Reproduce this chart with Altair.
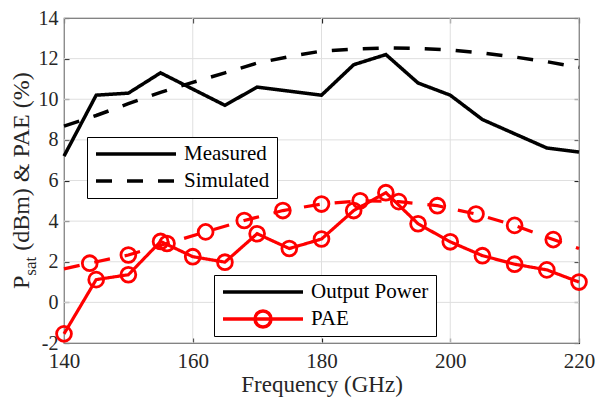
import altair as alt
import pandas as pd

# ---------------- data ----------------
freq_meas = [140, 145, 150, 155, 160, 165, 170, 175, 180, 185, 190, 195, 200, 205, 210, 215, 220]
psat_meas = [7.2, 10.2, 10.3, 11.3, 10.5, 9.7, 10.6, 10.4, 10.2, 11.7, 12.2, 10.8, 10.2, 9.0, 8.3, 7.6, 7.4]
pae_meas = [-1.55, 1.12, 1.36, 3.0, 2.25, 1.98, 3.38, 2.65, 3.12, 4.52, 5.4, 3.87, 2.98, 2.3, 1.88, 1.6, 1.0]

freq_sim_psat = [140, 145, 150, 155, 160, 165, 170, 175, 180, 185, 190, 195, 200, 205, 210, 215, 220]
psat_sim = [8.68, 9.2, 9.78, 10.34, 10.83, 11.3, 11.78, 12.1, 12.37, 12.47, 12.53, 12.5, 12.43, 12.28, 12.08, 11.85, 11.57]

freq_sim_pae = [140, 144, 150, 156, 162, 168, 174, 180, 186, 192, 198, 204, 210, 216, 220]
pae_sim = [1.65, 1.93, 2.33, 2.9, 3.47, 4.03, 4.52, 4.84, 5.0, 4.96, 4.76, 4.35, 3.79, 3.09, 2.65]

x_ticks = [140, 160, 180, 200, 220]
y_ticks = [-2, 0, 2, 4, 6, 8, 10, 12, 14]

type_labels = ["Measured", "Simulated"]
quantity_labels = ["Output Power", "PAE"]
x_title = "Frequency (GHz)"
y_title_parts = ["P", "sat", "(dBm) & PAE (%)"]

# ---------------- tables ----------------
df_psat = pd.concat([
    pd.DataFrame({"freq": freq_meas, "value": psat_meas, "type": type_labels[0]}),
    pd.DataFrame({"freq": freq_sim_psat, "value": psat_sim, "type": type_labels[1]}),
])
df_pae = pd.concat([
    pd.DataFrame({"freq": freq_meas, "value": pae_meas, "type": type_labels[0]}),
    pd.DataFrame({"freq": freq_sim_pae, "value": pae_sim, "type": type_labels[1]}),
])
df_pae_markers = pd.concat([
    pd.DataFrame({"freq": freq_meas, "value": pae_meas}),
    pd.DataFrame({"freq": freq_sim_pae[1:-1], "value": pae_sim[1:-1]}),
])

SERIF = "Liberation Serif, Times New Roman, serif"
DARK = "#262626"
GRID = "#dfdfdf"

xs = alt.Scale(domain=[140, 220], nice=False, zero=False)
ys = alt.Scale(domain=[-2, 14], nice=False, zero=False)

dash_scale = alt.Scale(domain=type_labels, range=[[1, 0], [16, 15]])
legend_a = alt.Legend(
    orient="none", legendX=23, legendY=119, title=None,
    symbolType="stroke", symbolSize=6400, symbolStrokeWidth=3.5,
    symbolStrokeColor="black", clipHeight=20, rowPadding=6, padding=7,
    labelFont=SERIF, labelFontSize=21, labelColor="black", labelOffset=6,
    strokeColor="black", fillColor="white",
)

line_path = "M-1,0L1,0"
circ_path = "M-1,0L1,0M0.2,0A0.2,0.2,0,1,1,-0.2,0A0.2,0.2,0,1,1,0.2,0"
legend_b = alt.Legend(
    orient="none", legendX=150, legendY=257, title=None,
    symbolSize=6400, symbolStrokeWidth=3.5, clipHeight=20, rowPadding=6, padding=7,
    labelFont=SERIF, labelFontSize=21, labelColor="black", labelOffset=6,
    strokeColor="black", fillColor="white",
)

axis_common = dict(
    offset=-5, tickSize=5, tickColor=DARK, tickWidth=1.2, domain=False, grid=False,
    labelFlush=False, labelOverlap=False,
)

# ---------------- grid + axes ----------------
grid_x = alt.Chart(pd.DataFrame({"freq": x_ticks})).mark_rule(color=GRID, strokeWidth=1).encode(
    x=alt.X("freq:Q", scale=xs, axis=alt.Axis(
        orient="bottom", values=x_ticks, labelFont=SERIF, labelFontSize=21, labelColor=DARK,
        labelPadding=7, labelExpr="'' + datum.value",
        title=x_title, titleFont=SERIF, titleFontSize=23, titleFontWeight="normal",
        titleColor=DARK, titlePadding=2, **axis_common)),
)
grid_y = alt.Chart(pd.DataFrame({"value": y_ticks})).mark_rule(color=GRID, strokeWidth=1).encode(
    y=alt.Y("value:Q", scale=ys, axis=alt.Axis(
        orient="left", values=y_ticks, labelFont=SERIF, labelFontSize=20, labelColor=DARK,
        labelPadding=6, labelExpr="'' + datum.value", title=None, **axis_common)),
)

# ---------------- data marks ----------------
line_black = alt.Chart(df_psat).mark_line(color="black", strokeWidth=3.5).encode(
    x=alt.X("freq:Q", scale=xs, axis=alt.Axis(
        orient="top", values=x_ticks, labels=False, title=None, **axis_common)),
    y=alt.Y("value:Q", scale=ys, axis=alt.Axis(
        orient="right", values=y_ticks, labels=False, title=None, **axis_common)),
    strokeDash=alt.StrokeDash("type:N", scale=dash_scale, legend=legend_a),
    detail="type:N",
)
line_red = alt.Chart(df_pae).mark_line(color="#ff0000", strokeWidth=3.2).encode(
    x=alt.X("freq:Q", scale=xs, axis=None),
    y=alt.Y("value:Q", scale=ys, axis=None),
    strokeDash=alt.StrokeDash("type:N", scale=dash_scale, legend=legend_a),
    detail="type:N",
)
pts_red = alt.Chart(df_pae_markers).mark_point(
    filled=False, color="#ff0000", size=220, strokeWidth=2.8, opacity=1
).encode(
    x=alt.X("freq:Q", scale=xs, axis=None),
    y=alt.Y("value:Q", scale=ys, axis=None),
)

# legend driver (no visible marks, only feeds the second legend)
legend_driver = alt.Chart(pd.DataFrame({"quantity": quantity_labels})).transform_filter(
    "false"
).mark_point(filled=False, size=6400, strokeWidth=3.5, opacity=1).encode(
    color=alt.Color("quantity:N", scale=alt.Scale(domain=quantity_labels, range=["black", "#ff0000"]),
                    legend=legend_b),
    shape=alt.Shape("quantity:N", scale=alt.Scale(domain=quantity_labels, range=[line_path, circ_path]),
                    legend=legend_b),
)

# ---------------- y title with subscript ----------------
def title_part(text, x, y, size):
    return alt.Chart(pd.DataFrame({"label": [text]})).mark_text(
        angle=270, align="left", baseline="alphabetic", font=SERIF, fontSize=size, color=DARK
    ).encode(text="label:N", x=alt.value(x), y=alt.value(y))

t_p = title_part(y_title_parts[0], -35, 271, 24)
t_sub = title_part(y_title_parts[1], -28, 257.7, 17)
t_rest = title_part(y_title_parts[2], -35, 232.8, 24)

chart = alt.layer(
    grid_x, grid_y, line_black, line_red, pts_red, legend_driver, t_p, t_sub, t_rest
).resolve_axis(
    x="independent", y="independent"
).properties(
    width=515, height=325,
    autosize=alt.AutoSizeParams(type="none"),
    padding={"left": 56, "top": 10, "right": 16, "bottom": 55},
).configure_view(
    stroke=DARK, strokeWidth=1.2
).configure_axis(
    labelFont=SERIF, titleFont=SERIF
).configure_text(
    font=SERIF
)

chart.save("out.html", embed_options={"renderer": "svg", "actions": False})
